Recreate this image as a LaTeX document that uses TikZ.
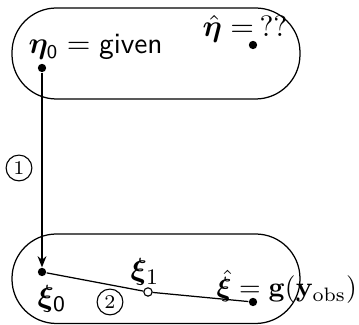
\documentclass[tikz,border=0pt]{standalone}
\usepackage{amsmath}
\usepackage{bm}
\usetikzlibrary{arrows.meta}
\tikzset{
  region/.style={draw, line width=0.45pt, rounded corners=16pt},
  dot/.style={circle, fill, inner sep=0pt, minimum size=3pt},
  odot/.style={circle, draw, fill=white, inner sep=0pt, minimum size=3pt, line width=0.4pt},
  num/.style={circle, draw, line width=0.4pt, inner sep=0pt, minimum size=9.3pt, font=\scriptsize},
  lbl/.style={anchor=base west, inner sep=0pt},
  big/.style={font=\fontsize{11}{13}\selectfont},
  mid/.style={font=\fontsize{10.6}{13}\selectfont},
}
\begin{document}
\begin{tikzpicture}[x=0.36pt, y=-0.36pt]
\useasboundingbox (0,0) rectangle (359,325);
\draw[region] (12,8) rectangle (300,99);
\draw[region] (12,234) rectangle (300,323.5);
% labels
\node[lbl, mid] (teta) at (28,54) {$\bm{\eta}_{\mathsf{0}} \mathrel{=} \textsf{given}$};
\node[lbl, mid] (tetahat) at (202,37) {$\hat{\bm{\eta}} =$};
\node[lbl, mid] (tq) at (259,37) {??};
\node[lbl, big] (txi0) at (37,307) {$\bm{\xi}_{\mathsf{0}}$};
\node[lbl, big] (txi1) at (130,280) {$\bm{\xi}_1$};
\node[lbl] (txihat) at (216,297) {$\hat{\bm{\xi}} = \mathbf{g}(\mathbf{y}_{\mathrm{obs}})$};
% points
\node[dot] (eta0) at (42,68) {};
\node[dot] (etahat) at (253,45) {};
\node[dot] (xi0) at (42,272) {};
\node[odot] (xi1) at (148,292) {};
\node[dot] (xihat) at (253,302) {};
% connectors
\draw[line width=0.45pt, -{Stealth[length=4pt, width=3.2pt]}] (eta0) -- (xi0);
\draw[line width=0.45pt] (xi0) -- (xi1) -- (xihat);
% step numbers
\node[num] (c1) at (19,168) {1};
\node[num] (c2) at (110,302) {2};
\end{tikzpicture}
\end{document}
